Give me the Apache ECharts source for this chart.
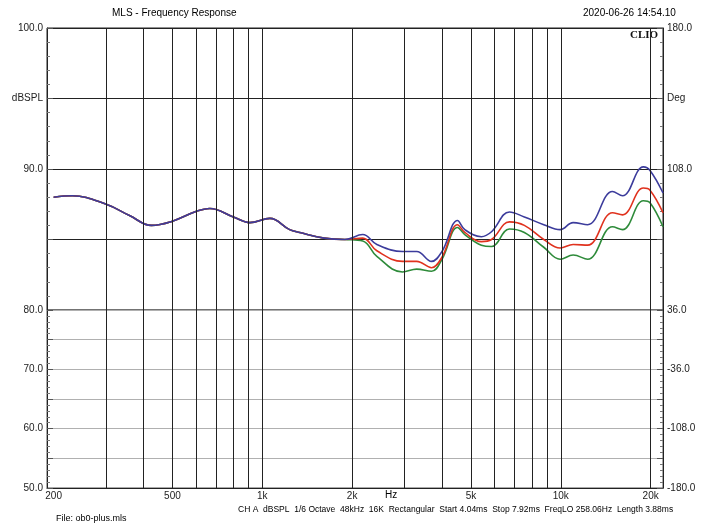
<!DOCTYPE html>
<html>
<head>
<meta charset="utf-8">
<script src="https://cdn.jsdelivr.net/npm/echarts@6/dist/echarts.min.js"></script>
<style>html,body{margin:0;padding:0;background:#fff}#main{width:705px;height:530px}</style>
</head>
<body>
<div id="main"></div>
<script>
// 频率 (Hz)
var freqs = [200, 231, 300, 359, 425, 500, 602, 667, 800, 908, 1060, 1235, 1335, 1610, 1890,
  2170, 2420, 2950, 3290, 3690, 4000, 4510, 4770, 5420, 5860, 6730, 7550, 8770, 9950, 11000, 12300, 14900, 16100, 18900, 19900, 22000];
var common = [88.0, 88.1, 87.5, 86.7, 86.0, 86.3, 87.0, 87.2, 86.6, 86.2, 86.5, 85.7, 85.5, 85.1, 85.0];
var blueTail = [85.35, 84.65, 84.15, 84.15, 83.45, 84.15, 86.35, 85.7, 85.2, 85.55, 86.95, 86.6, 86.05, 85.7, 86.2, 86.05, 88.4, 88.1, 90.15, 89.9, 88.3];
var redTail = [85.1, 84.2, 83.45, 83.45, 83.0, 83.75, 86.05, 85.5, 84.85, 85.0, 86.25, 86.0, 85.0, 84.4, 84.65, 84.6, 86.9, 86.75, 88.65, 88.5, 86.9];
var greenTail = [84.9, 83.8, 82.7, 82.9, 82.75, 83.6, 85.85, 85.35, 84.6, 84.5, 85.75, 85.5, 84.45, 83.6, 83.9, 83.6, 85.9, 85.7, 87.75, 87.6, 85.9];
// 竖直网格线
var gridFreqs = [300, 400, 500, 600, 700, 800, 900, 1000, 2000, 3000, 4000, 5000, 6000, 7000, 8000, 9000, 10000, 20000];
var xLabels = {200: '200', 500: '500', 1000: '1k', 2000: '2k', 5000: '5k', 10000: '10k', 20000: '20k'};
var leftTop = {100: '100.0', 95: 'dBSPL', 90: '90.0'};
var rightTop = {100: '180.0', 95: 'Deg', 90: '108.0'};
var leftBot = {80: '80.0', 70: '70.0', 60: '60.0', 50: '50.0'};
var rightBot = {80: '36.0', 70: '-36.0', 60: '-108.0', 50: '-180.0'};

function pts(tail) {
  var vals = common.concat(tail);
  return freqs.map(function (f, i) { return [f, vals[i]]; });
}

var chart = echarts.init(document.getElementById('main'));
var txt = {color: '#222', fontFamily: 'Liberation Sans', fontSize: 10};

function yAx(idx, min, max, pos, map, splitColor) {
  return {
    type: 'value', gridIndex: idx, min: min, max: max, interval: 5, position: pos,
    axisLine: {show: true, lineStyle: {color: '#222'}},
    axisTick: {show: true, inside: true, length: 6, lineStyle: {color: '#555'}},
    minorTick: {show: true, splitNumber: 5, length: 3, lineStyle: {color: '#777'}},
    axisLabel: Object.assign({margin: 4, formatter: function (v) { return map[v] || ''; }}, txt),
    splitLine: {show: pos === 'left', lineStyle: {color: splitColor, width: 1}}
  };
}

var vlines = gridFreqs.map(function (f) { return {xAxis: f}; });
var vlinesBot = [{xAxis: 200, lineStyle: {color: 'rgba(0,0,0,0)'}, label: {show: true, formatter: '200'}}].concat(
  gridFreqs.map(function (f) {
    return {xAxis: f, label: {show: !!xLabels[f], formatter: xLabels[f] || ''}};
  }));

var option = {
  animation: false,
  grid: [
    {left: 47, right: 42, top: 28, height: 282, show: true, borderColor: '#222'},
    {left: 47, right: 42, top: 310, height: 178, show: true, borderColor: '#555'}
  ],
  xAxis: [
    {type: 'log', gridIndex: 0, min: 190, max: 22000, axisLine: {show: false}, axisTick: {show: false}, axisLabel: {show: false}, splitLine: {show: false}},
    {type: 'log', gridIndex: 1, min: 190, max: 22000, axisLine: {show: true, lineStyle: {color: '#222'}}, axisTick: {show: false}, axisLabel: {show: false}, splitLine: {show: false}}
  ],
  yAxis: [
    yAx(0, 80, 100, 'left', leftTop, '#222'),
    yAx(0, 80, 100, 'right', rightTop, '#222'),
    yAx(1, 50, 80, 'left', leftBot, '#b0b0b0'),
    yAx(1, 50, 80, 'right', rightBot, '#b0b0b0')
  ],
  series: [
    {type: 'line', xAxisIndex: 0, yAxisIndex: 0, smooth: 0.4, showSymbol: false, data: pts(greenTail), lineStyle: {color: '#2e8b3a', width: 1.6},
      markLine: {silent: true, symbol: 'none', label: {show: false}, lineStyle: {color: '#222', type: 'solid', width: 1}, data: vlines}},
    {type: 'line', xAxisIndex: 0, yAxisIndex: 0, smooth: 0.4, showSymbol: false, data: pts(redTail), lineStyle: {color: '#e0321e', width: 1.6}},
    {type: 'line', xAxisIndex: 0, yAxisIndex: 0, smooth: 0.4, showSymbol: false, data: pts(blueTail), lineStyle: {color: '#3c3c9c', width: 1.6}},
    {type: 'line', xAxisIndex: 1, yAxisIndex: 2, showSymbol: false, data: [[190, 50]], lineStyle: {opacity: 0},
      markLine: {silent: true, symbol: 'none',
        label: Object.assign({position: 'start', distance: 3}, txt),
        lineStyle: {color: '#222', type: 'solid', width: 1}, data: vlinesBot}}
  ],
  graphic: [
    {type: 'text', left: 112, top: 8, style: Object.assign({text: 'MLS - Frequency Response'}, txt)},
    {type: 'text', left: 583, top: 8, style: Object.assign({text: '2020-06-26 14:54.10'}, txt)},
    {type: 'text', left: 630, top: 30, style: {text: 'CLIO', fill: '#111', font: 'bold 11px "Liberation Serif"'}},
    {type: 'text', left: 385, top: 490, style: Object.assign({text: 'Hz'}, txt)},
    {type: 'text', left: 238, top: 505, style: Object.assign({text: 'CH A  dBSPL  1/6 Octave  48kHz  16K  Rectangular  Start 4.04ms  Stop 7.92ms  FreqLO 258.06Hz  Length 3.88ms'}, txt, {fontSize: 8.5})},
    {type: 'text', left: 56, top: 514, style: Object.assign({text: 'File: ob0-plus.mls'}, txt, {fontSize: 9})}
  ]
};
chart.setOption(option);
</script>
</body>
</html>
